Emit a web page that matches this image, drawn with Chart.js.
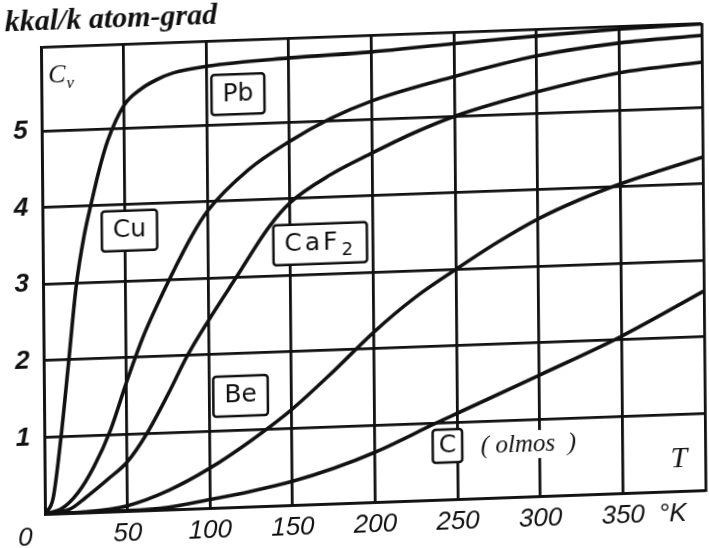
<!DOCTYPE html>
<html>
<head>
<meta charset="utf-8">
<script src="https://cdn.jsdelivr.net/npm/chart.js@4.4.1/dist/chart.umd.min.js"></script>
<style>
  html, body { margin: 0; padding: 0; background: #fff; }
  #wrap { width: 709px; height: 548px; overflow: hidden; }
  /* the scanned original is slightly skewed, mimic it */
  #c { display: block; transform-origin: 41px 47px; transform: matrix(1, -0.0361, 0.0086, 1, 0, 0); }
</style>
</head>
<body>
<div id="wrap"><canvas id="c" width="709" height="548"></canvas></div>
<script>
// temperature (K) and heat capacity Cv (kkal/k atom-grad)
const pbT  = [0, 5, 10, 15, 20, 25, 30, 35, 40, 50, 60, 70, 80, 100, 150, 200, 250, 300, 350, 400];
const pbCv = [0, 0.2, 0.98, 1.95, 2.95, 3.6, 4.07, 4.5, 4.85, 5.3, 5.5, 5.62, 5.7, 5.77, 5.84, 5.88, 5.95, 6.01, 6.06, 6.09];

const cuT  = [0, 10, 20, 30, 40, 50, 60, 70, 80, 90, 100, 125, 150, 175, 200, 250, 300, 350, 400];
const cuCv = [0, 0.06, 0.26, 0.6, 1.06, 1.68, 2.25, 2.72, 3.15, 3.55, 3.88, 4.4, 4.75, 5.03, 5.24, 5.52, 5.75, 5.88, 5.94];

const caf2T  = [0, 15, 25, 38, 50, 62, 75, 87, 100, 117, 137, 150, 175, 200, 225, 250, 300, 350, 400];
const caf2Cv = [0, 0.05, 0.2, 0.42, 0.64, 1.0, 1.5, 2.0, 2.45, 3.0, 3.64, 3.95, 4.3, 4.56, 4.8, 5.0, 5.28, 5.49, 5.59];

const beT  = [0, 25, 50, 75, 100, 125, 150, 175, 200, 225, 250, 275, 300, 325, 350, 375, 400];
const beCv = [0, 0.01, 0.07, 0.25, 0.52, 0.86, 1.25, 1.72, 2.22, 2.65, 3.0, 3.33, 3.62, 3.85, 4.04, 4.2, 4.35];

const cT  = [0, 50, 75, 100, 125, 150, 175, 200, 237, 250, 300, 350, 400];
const cCv = [0, 0.005, 0.03, 0.11, 0.2, 0.31, 0.46, 0.65, 1.0, 1.12, 1.58, 2.05, 2.6];

const xTickLabels = ['', '50', '100', '150', '200', '250', '300', '350', ''];
const yTickValues = [0, 1, 2, 3, 4, 5];
const yTickLabels = ['', '1', '2', '3', '4', '5'];
const yTop = 6.1;

// boxed curve names, anchored in data coordinates
const boxLabels = [
    { text: 'Pb', t: 119, cv: 5.39 },
    { text: 'Cu', t: 52.6, cv: 3.66 },
    { text: 'CaF', sub: '2', t: 168, cv: 3.4 },
    { text: 'Be', t: 119, cv: 1.45 },
    { text: 'C', t: 244, cv: 0.7 },
];

// loose texts
const freeTexts = [
    { text: 'C', sub: 'v', t: 12, cv: 5.72, font: 'italic 26px "Liberation Serif"', subFont: 'italic 17px "Liberation Serif"' },
    { text: '( olmos  )', t: 293, cv: 0.68, font: 'italic 25px "Liberation Serif"', bg: true },
    { text: 'T', t: 384, cv: 0.42, font: 'italic 30px "Liberation Serif"' },
    { text: '°K', t: 380, cv: -0.3, font: 'italic 26px "Liberation Sans"' },
    { text: '0', t: -12, cv: -0.31, font: 'italic 26px "Liberation Sans"' },
];

const ink = '#111';

function series(ts, cvs) {
    return ts.map((t, i) => ({ x: t, y: cvs[i] }));
}

function curve(ts, cvs) {
    return {
        data: series(ts, cvs),
        borderColor: ink,
        borderWidth: 3.6,
        pointRadius: 0,
        fill: false,
        cubicInterpolationMode: 'monotone',
    };
}

function measureWithSub(ctx, text, sub, font, subFont) {
    ctx.font = font;
    let w = ctx.measureText(text).width;
    if (sub) {
        ctx.font = subFont;
        w += ctx.measureText(sub).width + 1;
    }
    return w;
}

function drawWithSub(ctx, text, sub, font, subFont, cx, cy) {
    const total = measureWithSub(ctx, text, sub, font, subFont);
    const x0 = cx - total / 2;
    ctx.font = font;
    ctx.fillText(text, x0, cy);
    if (sub) {
        const w = ctx.measureText(text).width;
        ctx.font = subFont;
        ctx.fillText(sub, x0 + w + 1, cy + 8);
    }
}

const labelPlugin = {
    id: 'cvLabels',
    afterDatasetsDraw(chart) {
        const { ctx } = chart;
        const xs = chart.scales.x, ys = chart.scales.y;
        const boxFont = '25px "DejaVu Sans"', boxSub = '18px "DejaVu Sans"';
        ctx.save();
        ctx.strokeStyle = ink;
        ctx.textBaseline = 'middle';
        ctx.textAlign = 'left';

        for (const b of boxLabels) {
            const px = xs.getPixelForValue(b.t);
            const py = ys.getPixelForValue(b.cv);
            ctx.letterSpacing = b.sub ? '3px' : '0px';
            const w = measureWithSub(ctx, b.text, b.sub, boxFont, boxSub);
            const single = b.text.length === 1;
            const bw = w + (single ? 12 : 22), bh = single ? 33 : 40;
            ctx.fillStyle = '#fff';
            ctx.lineWidth = 2.5;
            ctx.beginPath();
            ctx.roundRect(px - bw / 2, py - bh / 2, bw, bh, 3);
            ctx.fill();
            ctx.stroke();
            ctx.fillStyle = ink;
            drawWithSub(ctx, b.text, b.sub, boxFont, boxSub, px, py);
        }

        ctx.letterSpacing = '0px';
        for (const f of freeTexts) {
            const px = xs.getPixelForValue(f.t);
            const py = ys.getPixelForValue(f.cv);
            if (f.bg) {
                const w = measureWithSub(ctx, f.text, f.sub, f.font, f.subFont);
                ctx.fillStyle = '#fff';
                ctx.fillRect(px - w / 2 - 2, py - 14, w + 4, 28);
            }
            ctx.fillStyle = ink;
            drawWithSub(ctx, f.text, f.sub, f.font, f.subFont, px, py);
        }
        ctx.restore();
    }
};

new Chart(document.getElementById('c').getContext('2d'), {
    type: 'line',
    data: {
        datasets: [
            curve(pbT, pbCv),
            curve(cuT, cuCv),
            curve(caf2T, caf2Cv),
            curve(beT, beCv),
            curve(cT, cCv),
        ]
    },
    options: {
        responsive: false,
        animation: false,
        devicePixelRatio: 1,
        layout: { padding: { left: 5, right: 3, top: 0, bottom: 0 } },
        plugins: {
            legend: { display: false },
            tooltip: { enabled: false },
            title: {
                display: true,
                text: 'kkal/k atom-grad',
                align: 'start',
                color: ink,
                font: { family: '"Liberation Serif"', size: 30, style: 'italic', weight: 'bold', lineHeight: 1.2 },
                padding: { top: 4, bottom: 7 },
            },
        },
        scales: {
            x: {
                type: 'linear',
                min: 0,
                max: 400,
                afterFit(scale) { scale.height = 34; },
                grid: { color: ink, lineWidth: 2.8, drawTicks: false },
                border: { color: ink, width: 2.8 },
                ticks: {
                    stepSize: 50,
                    padding: 7,
                    maxRotation: 0,
                    color: ink,
                    font: { family: '"Liberation Sans"', size: 26, style: 'italic' },
                    callback: (v, i) => xTickLabels[i],
                },
            },
            y: {
                type: 'linear',
                min: 0,
                max: yTop,
                afterFit(scale) { scale.width = 36; },
                afterBuildTicks(scale) {
                    scale.ticks = yTickValues.concat([yTop]).map(v => ({ value: v }));
                },
                grid: { color: ink, lineWidth: 2.8, drawTicks: false },
                border: { color: ink, width: 2.8 },
                ticks: {
                    padding: 14,
                    color: ink,
                    font: { family: '"Liberation Sans"', size: 26, style: 'italic', weight: 'bold' },
                    callback: (v, i) => yTickLabels[i] || '',
                },
            },
        },
    },
    plugins: [labelPlugin],
});
</script>
</body>
</html>
